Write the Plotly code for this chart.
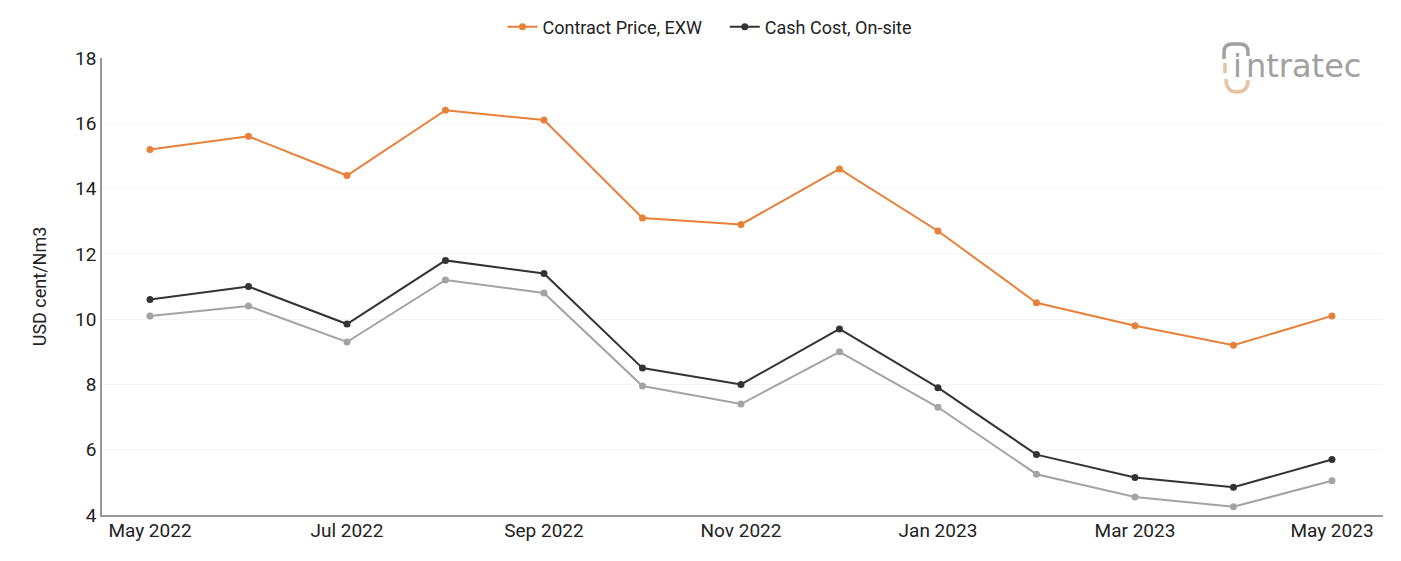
import plotly.graph_objects as go

months = ["May 2022", "Jun 2022", "Jul 2022", "Aug 2022", "Sep 2022", "Oct 2022",
          "Nov 2022", "Dec 2022", "Jan 2023", "Feb 2023", "Mar 2023", "Apr 2023",
          "May 2023"]
contract_price = [15.2, 15.6, 14.4, 16.4, 16.1, 13.1, 12.9, 14.6, 12.7, 10.5, 9.8, 9.2, 10.1]
cash_cost_onsite = [10.6, 11.0, 9.85, 11.8, 11.4, 8.5, 8.0, 9.7, 7.9, 5.85, 5.15, 4.85, 5.7]
cash_cost_other = [10.1, 10.4, 9.3, 11.2, 10.8, 7.95, 7.4, 9.0, 7.3, 5.25, 4.55, 4.25, 5.05]

FONT = "Roboto, Arial, sans-serif"
W, H = 1401, 561
ml, mr, mt, mb = 102, 18, 58, 46

xs = list(range(len(months)))
tick_idx = xs[::2]
GAP = "\u00a0" * 4

fig = go.Figure()
fig.add_trace(go.Scatter(x=xs, y=cash_cost_other, mode="lines+markers", name="Cash Cost",
                         line=dict(color="#a3a3a3", width=2), marker=dict(size=7, color="#a3a3a3"),
                         showlegend=False))
fig.add_trace(go.Scatter(x=xs, y=cash_cost_onsite, mode="lines+markers", name="Cash Cost, On-site",
                         line=dict(color="#333333", width=2), marker=dict(size=7, color="#333333")))
fig.add_trace(go.Scatter(x=xs, y=contract_price, mode="lines+markers", name="Contract Price, EXW" + GAP,
                         line=dict(color="#e8803a", width=2), marker=dict(size=7, color="#e8803a")))

def px(x):
    return (x - ml) / (W - ml - mr)

def py(y):
    return 1 - (y - mt) / (H - mt - mb)

fig.update_layout(
    width=W, height=H,
    margin=dict(l=ml, r=mr, t=mt, b=mb, autoexpand=False),
    paper_bgcolor="white", plot_bgcolor="white",
    font=dict(family=FONT, size=19, color="#222222"),
    legend=dict(orientation="h", xref="container", yref="container", x=710 / W, xanchor="center",
                y=1 - 27 / H, yanchor="middle",
                traceorder="reversed", font=dict(size=18, color="#222222"), itemwidth=30),
    xaxis=dict(range=[-0.487, 12.518], tickvals=tick_idx, ticktext=[months[i] for i in tick_idx],
               showgrid=False, showline=True, linecolor="#999999", linewidth=1.5,
               ticks="", tickfont=dict(size=19, color="#222222"), zeroline=False,
               ticklabelstandoff=-3),
    yaxis=dict(range=[4, 18], dtick=2, showgrid=True, gridcolor="#f5f5f5", gridwidth=1,
               showline=True, linecolor="#999999", linewidth=1.5, ticks="", zeroline=False,
               tickfont=dict(size=19, color="#222222"),
               title=dict(text="USD cent/Nm3", font=dict(size=18, color="#222222"), standoff=24)),
    hovermode=False,
)

# logo
LOGO_FONT = "DejaVu Sans, Arial, sans-serif"
fig.add_annotation(xref="paper", yref="paper", x=px(1231), y=py(66), xanchor="left", yanchor="middle",
                   text="i", showarrow=False, font=dict(family=LOGO_FONT, size=32, color="#a0a0a0"))
fig.add_annotation(xref="paper", yref="paper", x=px(1244), y=py(66), xanchor="left", yanchor="middle",
                   text="ntratec", showarrow=False, font=dict(family=LOGO_FONT, size=32, color="#a0a0a0"))
fig.add_shape(type="path", xref="paper", yref="paper",
              path=f"M {px(1224)} {py(59)} L {px(1224)} {py(52)} Q {px(1224)} {py(44)} {px(1232)} {py(44)} L {px(1240)} {py(44)} Q {px(1248)} {py(44)} {px(1248)} {py(52)} L {px(1248)} {py(56)}",
              line=dict(color="#a0a0a0", width=3.5))
fig.add_shape(type="path", xref="paper", yref="paper",
              path=f"M {px(1225)} {py(63)} L {px(1225)} {py(73)}",
              line=dict(color="#e6c3a2", width=3.5))
fig.add_shape(type="path", xref="paper", yref="paper",
              path=f"M {px(1226)} {py(79)} Q {px(1226)} {py(92)} {px(1237)} {py(92)} Q {px(1248)} {py(92)} {px(1248)} {py(80)}",
              line=dict(color="#e6c3a2", width=3.5))

fig.write_html("out.html")
